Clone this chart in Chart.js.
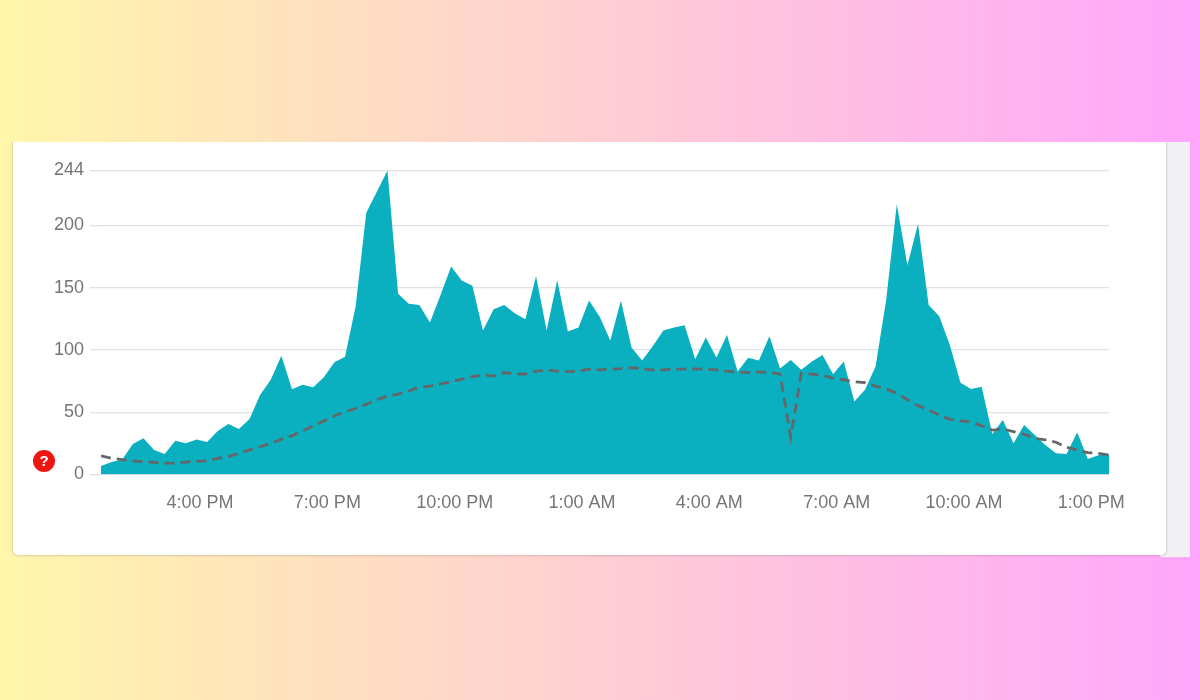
<!DOCTYPE html>
<html lang="en" dir="ltr">
  <head>
    <meta charset="utf-8" />
    <title>usage chart</title>
    <script src="https://cdn.jsdelivr.net/npm/chart.js@4/dist/chart.umd.js"></script>
    <style>
      html, body { margin: 0; padding: 0; }
      body {
        width: 1200px;
        height: 700px;
        overflow: hidden;
        position: relative;
        background: linear-gradient(to right, #fff6aa, #ffa6fc);
        font-family: "Liberation Sans", Arial, sans-serif;
      }
      #strip {
        position: absolute;
        left: 1160px;
        top: 142px;
        width: 30px;
        height: 415px;
        background: #f1f1f3;
      }
      #card {
        position: absolute;
        left: 13px;
        top: 142px;
        width: 1153px;
        height: 413px;
        background: #fff;
        border-radius: 0 0 5px 5px;
        box-shadow: 0 0 3px rgba(90, 90, 90, 0.45);
        clip-path: inset(0 -5px -5px -5px);
      }
      #chart { position: absolute; left: 0; top: 0; }
      #help {
        position: absolute;
        left: 33px;
        top: 450px;
        width: 22px;
        height: 22px;
        border-radius: 50%;
        background: #ef1612;
        color: #fff;
        font-size: 15px;
        font-weight: bold;
        line-height: 22px;
        text-align: center;
      }
    </style>
  </head>

  <body>
    <div id="strip"></div>
    <div id="card"></div>
    <canvas id="chart" width="1200" height="700"></canvas>
    <div id="help">?</div>

    <script>
      // minutes between samples, first sample is 1:40 PM
      var stepMinutes = 15;

      var areaValues = [
        6.8, 10, 12, 24.5, 29, 19.7, 16.5, 27, 25, 28, 26, 35,
        40.5, 36.5, 44.5, 64, 76, 95.4, 68.4, 72, 70, 78, 90, 94.6,
        135, 210, 227, 244, 145, 137, 136, 122, 144, 167, 155.7, 151.4,
        115.5, 132.7, 136, 129.5, 124.6, 159.4, 115.5, 156, 114.7, 118, 139.6, 126.7,
        107.5, 139.6, 102, 91.4, 103, 115.5, 118, 119.8, 92.5, 110, 94, 112,
        82.6, 93.8, 91.4, 111, 85, 92, 84, 90.6, 96, 80.5, 90.6, 58.5,
        68, 86.6, 140, 217, 168, 201, 136, 127, 104, 73.7, 68.7, 70.5,
        32.5, 43.8, 25, 39.8, 31.7, 23.7, 17, 16.5, 33.9, 12.4, 15.4, 16.2
      ];

      var typicalValues = [
        14.9, 13, 12, 11, 10.3, 9.8, 9.2, 9.2, 10, 10.6, 11, 13,
        14.3, 17, 19.7, 22.3, 25, 28.3, 31, 35, 39, 43, 47, 50.4,
        53, 56.4, 60, 63, 64.6, 67, 70, 71, 72.7, 74.5, 76.5, 78.6,
        80, 79, 81.8, 80.7, 80.5, 83, 83.7, 83, 82.6, 83, 84.5, 84,
        84.5, 85, 85.8, 84.7, 84, 84, 84.5, 84.5, 84.7, 84.5, 84, 83,
        82.3, 81.8, 82.3, 81.9, 80.7, 30, 81.3, 80.5, 79.7, 77.2, 76, 74.5,
        73.7, 71, 68.7, 65.2, 60, 55.3, 51.8, 47.8, 44.3, 43, 42.4, 39,
        35.7, 36.5, 34.4, 32.3, 29, 27.7, 25.9, 21.8, 19.7, 17.5, 17, 15.7
      ];

      var yTicks = [0, 50, 100, 150, 200, 244];
      var xTickMinutes = [140, 320, 500, 680, 860, 1040, 1220, 1400];
      var xTickLabels = ["4:00 PM", "7:00 PM", "10:00 PM", "1:00 AM", "4:00 AM", "7:00 AM", "10:00 AM", "1:00 PM"];

      function toPoints(values) {
        return values.map(function (v, i) {
          return { x: i * stepMinutes, y: v };
        });
      }

      function setTicks(list) {
        return function (scale) {
          scale.ticks = list.map(function (v) {
            return { value: v };
          });
        };
      }

      var ctx = document.getElementById("chart").getContext("2d");
      var chart = new Chart(ctx, {
        type: "line",
        data: {
          datasets: [
            {
              data: toPoints(typicalValues),
              borderColor: "#666668",
              borderWidth: 2.8,
              borderDash: [10, 6],
              pointRadius: 0,
              fill: false,
              order: 0,
            },
            {
              data: toPoints(areaValues),
              borderColor: "#0aafc0",
              borderWidth: 0,
              backgroundColor: "#0aafc0",
              pointRadius: 0,
              fill: "origin",
              order: 1,
            },
          ],
        },
        options: {
          responsive: false,
          animation: false,
          layout: {
            autoPadding: false,
            padding: { left: 0, right: 91, top: 170.5, bottom: 0 },
          },
          plugins: {
            legend: { display: false },
            tooltip: { enabled: false },
          },
          scales: {
            x: {
              type: "linear",
              min: 0,
              max: 1425,
              afterBuildTicks: setTicks(xTickMinutes),
              afterFit: function (scale) {
                scale.height = 225.5;
              },
              grid: { display: false },
              border: { display: false },
              ticks: {
                padding: 10,
                maxRotation: 0,
                autoSkip: false,
                color: "#757575",
                font: { family: "Liberation Sans", size: 18 },
                callback: function (value) {
                  return xTickLabels[xTickMinutes.indexOf(value)];
                },
              },
            },
            y: {
              min: 0,
              max: 244,
              afterBuildTicks: setTicks(yTicks),
              afterFit: function (scale) {
                scale.width = 101;
              },
              grid: { color: "#e2e2e4", lineWidth: 1.3, tickLength: 11 },
              border: { display: false },
              ticks: {
                padding: 6,
                autoSkip: false,
                color: "#757575",
                font: { family: "Liberation Sans", size: 18 },
              },
            },
          },
        },
      });
    </script>
  </body>
</html>
